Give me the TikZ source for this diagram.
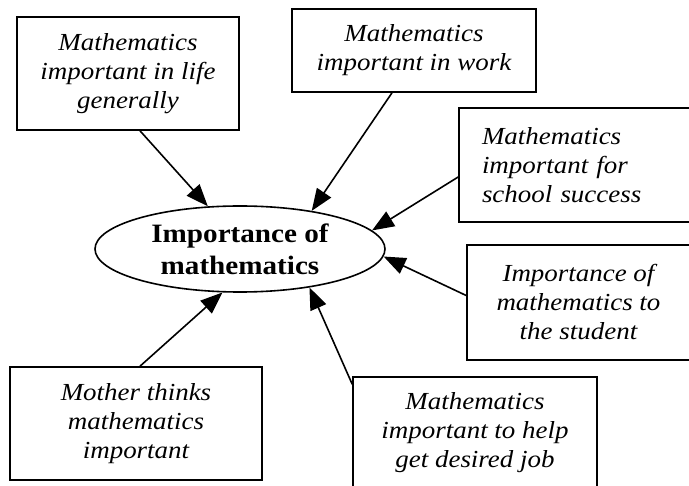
\documentclass[tikz,border=0pt]{standalone}
\usepackage{fontspec}
\setmainfont{Liberation Serif}[FakeStretch=1.1]
\usetikzlibrary{arrows.meta,shapes.geometric}
\tikzset{
  factor/.style={draw,line width=1.6pt,inner sep=0pt,align=center,
    font=\fontsize{24.5}{29}\selectfont\itshape},
  central/.style={ellipse,draw,line width=1.6pt,inner sep=0pt,
    minimum width=290pt,minimum height=86pt,align=center,
    font=\fontsize{26.5}{32}\selectfont\bfseries},
  arrow/.style={-{Triangle[length=22pt,width=17pt]},line width=1.6pt}
}

\begin{document}
\begin{tikzpicture}[x=1pt,y=-1pt]
  \useasboundingbox (0,0) rectangle (689,486);
  \clip (0,0) rectangle (689,486);
  % centre
  \node[central] (imp) at (240,249) {Importance of\\mathematics};
  % factors
  \node[factor,minimum width=222pt,minimum height=113pt] (life) at (128,73.5)
    {Mathematics\\important in life\\generally};
  \node[factor,minimum width=244pt,minimum height=83pt] (work) at (414,50.5)
    {Mathematics\\important in work};
  \node[factor,minimum width=231pt,minimum height=114pt,text width=185pt,align=left]
    (school) at (574.5,165) {Mathematics\\important for\\school success};
  \node[factor,minimum width=223pt,minimum height=115pt] (student) at (578.5,302.5)
    {Importance of\\mathematics to\\the student};
  \node[factor,minimum width=244pt,minimum height=112pt] (job) at (475,433)
    {Mathematics\\important to help\\get desired job};
  \node[factor,minimum width=252pt,minimum height=113pt] (mother) at (136,423.5)
    {Mother thinks\\mathematics\\important};
  % arrows
  \draw[arrow] ([xshift=12pt]life.south) -- (imp.127);
  \draw[arrow] ([xshift=-22pt]work.south) -- (imp.28);
  \draw[arrow] ([yshift=-12pt]school.west) -- (imp.8);
  \draw[arrow] ([yshift=7pt]student.west) -- (imp.-3);
  \draw[arrow] ([yshift=-8pt]job.north west) -- (imp.-29);
  \draw[arrow] ([xshift=4pt]mother.north) -- (imp.-112);
\end{tikzpicture}
\end{document}
